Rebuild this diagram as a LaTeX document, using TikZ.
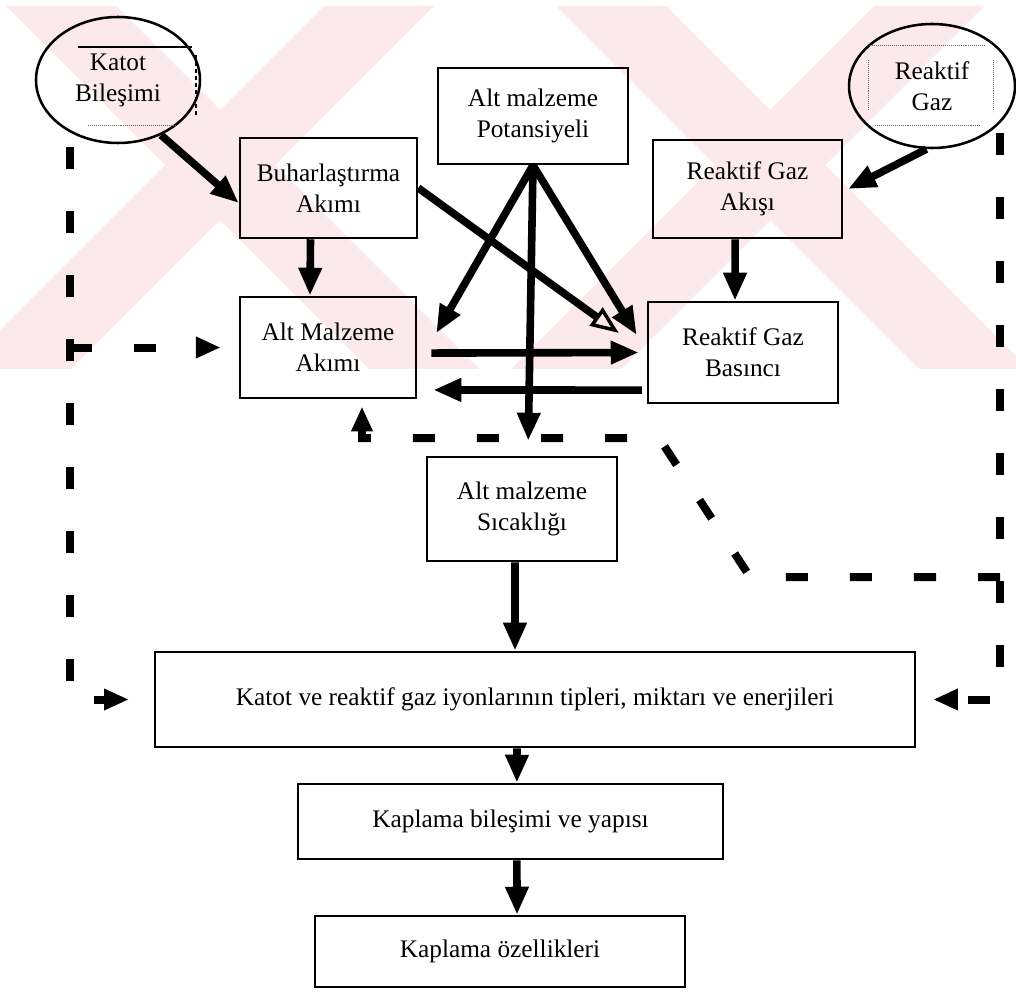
\documentclass[tikz,border=0pt]{standalone}
\usepackage{fontspec}
\setmainfont{Liberation Serif}
\usetikzlibrary{arrows.meta,shapes.geometric}

\definecolor{filigran}{RGB}{252,233,236}
\tikzset{
  kutu/.style={draw,line width=1.8pt,align=center,inner sep=0pt,
    font=\fontsize{18}{22}\selectfont},
  elips/.style={kutu,ellipse},
  boyut/.style 2 args={minimum width=#1*0.025cm,minimum height=#2*0.025cm},
  ok/.style={line width=0.19cm,-{Triangle[length=0.7cm,width=0.55cm]}},
  kesik/.style={line width=0.2cm,dash pattern=on 0.55cm off 1.05cm,
    -{Triangle[length=0.62cm,width=0.5cm]}},
}

\begin{document}
\begin{tikzpicture}[x=0.025cm,y=-0.025cm]
  \useasboundingbox (0,0) rectangle (1016,991);
  % filigran
  \begin{scope}
    \clip (0,7) rectangle (1016,368);
    \foreach \a in {0,550}
      \fill[filigran] (\a,0) -- (\a+110,0) -- (\a+510,400) -- (\a+400,400) -- cycle;
    \foreach \b in {330,880}
      \fill[filigran] (\b,0) -- (\b+110,0) -- (\b-290,400) -- (\b-400,400) -- cycle;
  \end{scope}

  % kutular
  \node[elips,boyut={164}{126}] (katot) at (118,80) {Katot\\Bileşimi};
  \node[elips,boyut={166}{124}] (gaz) at (932,86) {Reaktif\\Gaz};
  \node[kutu,boyut={177}{100}] (buhar) at (328.5,188) {Buharlaştırma\\Akımı};
  \node[kutu,boyut={190}{96}] (potans) at (533,116) {Alt malzeme\\Potansiyeli};
  \node[kutu,boyut={189}{98}] (akis) at (747.5,189) {Reaktif Gaz\\Akışı};
  \node[kutu,boyut={176}{101}] (altakim) at (328,347.5) {Alt Malzeme\\Akımı};
  \node[kutu,boyut={190}{101}] (basinc) at (743,352.5) {Reaktif Gaz\\Basıncı};
  \node[kutu,boyut={190}{104}] (sicak) at (522,509) {Alt malzeme\\Sıcaklığı};
  \node[kutu,boyut={760}{95}] (iyon) at (535,699.5)
    {Katot ve reaktif gaz iyonlarının tipleri, miktarı ve enerjileri};
  \node[kutu,boyut={425}{75}] (yapi) at (510.5,821.5) {Kaplama bileşimi ve yapısı};
  \node[kutu,boyut={370}{71}] (ozel) at (500,951.5) {Kaplama özellikleri};

  % elips icindeki cizgiler
  \draw[line width=1pt] (78,47) -- (192,47);
  \draw[line width=0.8pt,densely dashed] (196,55) -- (196,118);
  \draw[black!60,densely dotted] (88,125) -- (175,125);
  \draw[black!60,densely dotted] (870,45) -- (985,45) (875,125) -- (980,125)
    (868,60) -- (868,110) (993,60) -- (993,110);

  % oklar
  \draw[ok] (katot.-52) -- ([yshift=-0.375cm]buhar.west);
  \draw[ok] ([xshift=-0.45cm]buhar.south) -- ([xshift=-0.45cm]altakim.north);
  \draw[ok,-{Triangle[open,length=0.7cm,width=0.55cm,line width=2.5pt]}]
    (buhar.east) -- ([xshift=-0.7cm,yshift=0.49cm]basinc.west);
  \draw[ok] (potans.south) -- ([xshift=0.475cm,yshift=0.36cm]altakim.east);
  \draw[ok] (potans.south) -- ([xshift=-0.25cm,yshift=0.44cm]basinc.west);
  \draw[ok,shorten >=0.375cm] (potans.south) -- ([xshift=0.15cm]sicak.north);
  \draw[ok,shorten <=0.35cm,shorten >=0.2cm]
    ([yshift=-0.14cm]altakim.east) -- (basinc.west);
  \draw[ok,shorten <=0.12cm,shorten >=0.4cm]
    ([yshift=-0.94cm]basinc.west) -- ([yshift=-1.06cm]altakim.east);
  \draw[ok] (gaz.-95) -- ([xshift=0.12cm]akis.east);
  \draw[ok] ([xshift=-0.31cm]akis.south) -- ([xshift=-0.2cm]basinc.north);
  \draw[ok] ([xshift=-0.175cm]sicak.south) -- ([xshift=-0.5cm]iyon.north);
  \draw[ok] ([xshift=-0.45cm]iyon.south) -- ([xshift=0.16cm]yapi.north);
  \draw[ok] ([xshift=0.16cm]yapi.south) -- ([xshift=0.425cm]ozel.north);

  % geri besleme (kesikli)
  \coordinate (sol) at (70,147);
  \coordinate (sag) at (1000,133);
  \coordinate (sag2) at (1000,577);
  \coordinate (k1) at (750,577);
  \coordinate (k2) at (659,438);
  \coordinate (k3) at (362,438);
  \draw[kesik,shorten >=0.62cm] (sol) |- (iyon.west);
  \draw[kesik,shorten >=0.45cm] (sol |- altakim.west) -- (altakim.west);
  \draw[kesik,shorten >=0.42cm] (sag) |- (iyon.east);
  \draw[kesik,shorten >=0.18cm] (sag2) -- (k1) -- (k2) -- (k3) -- (k3 |- altakim.south);
\end{tikzpicture}
\end{document}
